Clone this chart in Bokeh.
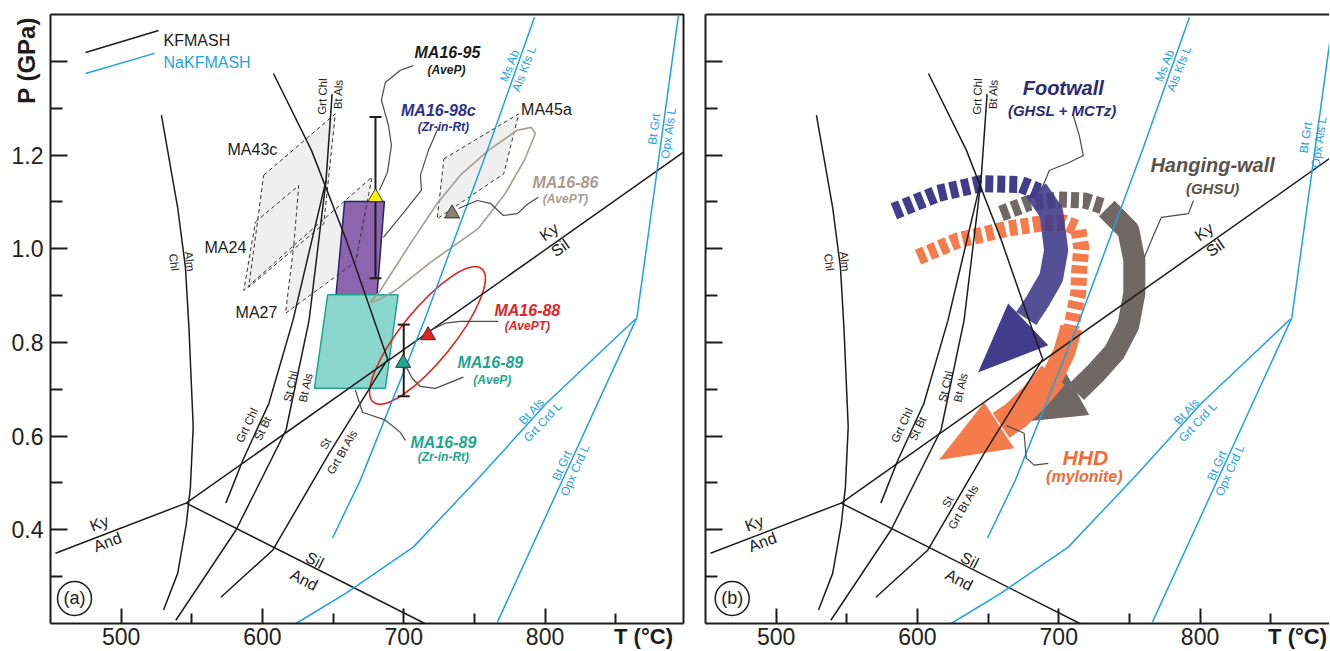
import math
from bokeh.plotting import figure
from bokeh.layouts import row
from bokeh.models import FixedTicker, ColumnDataSource
from bokeh.core.properties import value
from bokeh.embed import file_html
from bokeh.resources import INLINE

# ------------------------------------------------------------------ data
x_major = [500, 600, 700, 800]
x_minor = [550, 650, 750, 850]
y_major = [0.4, 0.6, 0.8, 1.0, 1.2, 1.4]
y_minor = [0.3, 0.5, 0.7, 0.9, 1.1, 1.3]
y_tick_text = {0.4: "0.4", 0.6: "0.6", 0.8: "0.8", 1.0: "1.0", 1.2: "1.2", 1.4: ""}
T_LO, T_HI, P_LO, P_HI = 450.0, 898.0, 0.2, 1.5

# KFMASH reactions (black)
alm_chl_T = [528.5, 540, 545.5, 548, 551, 549, 546, 540, 530]
alm_chl_P = [1.285, 1.088, 0.96, 0.83, 0.62, 0.49, 0.41, 0.307, 0.229]
ky_and_T = [453.5, 546]
ky_and_P = [0.35, 0.457]
sil_and_T = [546, 715]
sil_and_P = [0.457, 0.2]
ky_sil_T = [546, 898]
ky_sil_P = [0.457, 1.206]
grtchl_stbt_T = [574.1, 586.2, 604.6, 621.6, 645.0]
grtchl_stbt_P = [0.457, 0.549, 0.670, 0.847, 1.146]
stchl_btals_T = [538.7, 581.2, 616.7, 633.0, 645.0]
stchl_btals_P = [0.207, 0.399, 0.613, 0.847, 1.146]
grtchl_btals_T = [645.0, 649.3]
grtchl_btals_P = [1.146, 1.33]
st_grtbtals_T = [570.6, 607.4, 647.2, 689.0]
st_grtbtals_P = [0.256, 0.357, 0.563, 0.766]
st_grtbtky_T = [607.8, 634.7, 659.4, 688.4]
st_grtbtky_P = [1.374, 1.210, 1.018, 0.766]

# NaKFMASH reactions (blue)
msab_T = [792.5, 759.2, 714.6, 669.3, 649.5]
msab_P = [1.494, 1.210, 0.847, 0.506, 0.382]
btgrt_opxals_T = [894.4, 865.0]
btgrt_opxals_P = [1.498, 0.853]
btgrt_opxcrd_T = [865.0, 766.3]
btgrt_opxcrd_P = [0.853, 0.203]
btals_grtcrd_T = [864, 801, 753.5, 706.7, 659.2, 623.8]
btals_grtcrd_P = [0.85, 0.67, 0.512, 0.363, 0.265, 0.2]

# reaction labels
blk_lbl = ["Alm", "Chl", "Grt Chl", "Bt Als", "Grt Chl", "St Bt", "St Chl", "Bt Als"]
blk_lbl_T = [548.5, 537.5, 642.5, 653.6, 589.0, 600.2, 620.0, 630.6]
blk_lbl_P = [0.973, 0.971, 1.325, 1.330, 0.623, 0.616, 0.706, 0.704]
blk_lbl_ang = [-83, -83, 88, 88, 65, 65, 77, 77]
big_lbl = ["Ky", "And", "Sil", "And", "Ky", "Sil"]
big_lbl_T = [484.5, 490.3, 637.0, 629.5, 802.8, 810.7]
big_lbl_P = [0.414, 0.374, 0.335, 0.293, 1.036, 1.002]
big_lbl_ang = [21, 21, -27, -27, 35, 35]
st_lbl = ["St", "Grt Bt Als"]
st_lbl_T_a = [644.6, 656.4]
st_lbl_P_a = [0.584, 0.566]
st_lbl_T_b = [621.4, 632.5]
st_lbl_P_b = [0.460, 0.449]
blu_lbl = ["Ms Ab", "Als Kfs L", "Bt Grt", "Opx Als L", "Bt Als", "Grt Crd L", "Bt Grt", "Opx Crd L"]
blu_lbl_T_a = [775.0, 785.2, 877.2, 887.3, 790.6, 798.4, 811.9, 821.2]
blu_lbl_P_a = [1.391, 1.384, 1.255, 1.247, 0.653, 0.630, 0.537, 0.527]
blu_lbl_T_b = [775.0, 785.2, 874.8, 884.2, 790.6, 798.4, 811.9, 821.2]
blu_lbl_P_b = [1.391, 1.384, 1.237, 1.228, 0.653, 0.630, 0.537, 0.527]
blu_lbl_ang = [69, 69, 82, 82, 47, 47, 66, 66]

# thermobarometry boxes (panel a)
ma43c_T = [600.9, 651.6, 643.4, 590.3]
ma43c_P = [1.157, 1.288, 1.053, 0.918]
ma24_T = [595.0, 625.7, 622.2, 586.8]
ma24_P = [1.057, 1.135, 1.007, 0.911]
ma27_T = [622.2, 677.6, 665.9, 616.3]
ma27_P = [1.007, 1.153, 0.972, 0.862]
ma45a_T = [728.4, 781.4, 770.8, 723.7]
ma45a_P = [1.192, 1.288, 1.160, 1.064]
zr98c_T = [658.2, 686.3, 681.1, 652.1]
zr98c_P = [1.101, 1.101, 0.902, 0.902]
zr89_T = [646.2, 696.0, 687.0, 636.8]
zr89_P = [0.902, 0.902, 0.702, 0.702]
ma1686_T = [676.4, 683.5, 704.7, 723.8, 740.1, 759.9, 780.4, 790.3, 793.2, 785.4, 771.9, 752.8, 718.9, 694.1, 681.4]
ma1686_P = [0.886, 0.911, 1.011, 1.097, 1.157, 1.210, 1.253, 1.259, 1.246, 1.189, 1.118, 1.043, 0.971, 0.911, 0.890]
ma1688_T = [716.8]
ma1688_P = [0.815]

# point estimates
pt_T = [680.0, 734.2, 717.2, 699.6]
pt_P = [1.110, 1.075, 0.815, 0.756]
pt_col = ["#fff200", "#8c8073", "#e3231f", "#1fa68c"]
err_T = [680.0, 700.0]
err_lo = [0.937, 0.685]
err_hi = [1.281, 0.838]

# P-T paths (panel b)
navy_dash_T = [583.3, 614.5, 645.0, 673.4, 686.0]
navy_dash_P = [1.080, 1.118, 1.139, 1.137, 1.122]
navy_body_T = [684.0, 694.7, 698.2, 694.7, 685.5, 677.0]
navy_body_P = [1.125, 1.078, 0.997, 0.939, 0.890, 0.851]
navy_head_T = [664.2, 642.9, 692.6]
navy_head_P = [0.883, 0.736, 0.794]
gray_dash_T = [659.2, 678.4, 699.6, 718.1, 732.0]
gray_dash_P = [1.075, 1.097, 1.105, 1.103, 1.090]
gray_body_T = [734.0, 749.3, 753.5, 753.5, 749.3, 739.4, 726.6, 712.4]
gray_body_P = [1.086, 1.039, 0.975, 0.905, 0.837, 0.779, 0.736, 0.694]
gray_head_T = [705.3, 673.4, 721.6]
gray_head_P = [0.734, 0.630, 0.645]
orange_dash_T = [600.4, 628.7, 664.2, 687.6, 703.9, 713.8, 716.0, 714.5, 713.8, 711.0, 708.9]
orange_dash_P = [0.982, 1.018, 1.043, 1.054, 1.056, 1.043, 1.001, 0.954, 0.905, 0.864, 0.832]
orange_body_T = [708.9, 703.9, 696.1, 684.0, 669.9, 659.2]
orange_body_P = [0.832, 0.779, 0.730, 0.687, 0.645, 0.623]
orange_head_T = [647.2, 615.2, 668.4]
orange_head_P = [0.672, 0.549, 0.574]

# ------------------------------------------------------------------ style
FONT = "Liberation Sans"
INK = "#1c1c1c"
BLUE = "#1fa2e1"
RED = "#e3231f"
TEAL = "#1fa68c"
NAVY = "#2e2f8c"
BROWN = "#a79c8f"
LEAD = "#4a4a4a"
A_NAVY = "#433c8b"
A_GRAY = "#6f6864"
A_ORANGE = "#f47b4b"

SX = 633.0 / 448.0          # px per degC
SY = 609.0 / 1.3            # px per GPa
FIG_H = 650
TOP_PX = 14
BOT_PX = FIG_H - 623


def txt(p, T, P, texts, color, size, style="normal", angle=None, align="center", baseline="middle"):
    n = len(T)
    src = ColumnDataSource(dict(x=list(T), y=list(P), t=list(texts),
                                a=list(angle) if angle is not None else [0] * n))
    p.text(x="x", y="y", text="t", angle="a", angle_units="deg", source=src,
           text_color=color, text_font=value(FONT), text_font_size=value(size),
           text_font_style=style, text_align=align, text_baseline=baseline)


def make_fig(left_px, box_w, right_px, ylabels):
    t_hi = T_LO + box_w / SX
    xr = (T_LO - left_px / SX, t_hi + right_px / SX)
    yr = (P_LO - BOT_PX / SY, P_HI + TOP_PX / SY)
    p = figure(width=left_px + box_w + right_px, height=FIG_H, x_range=xr, y_range=yr,
               output_backend="svg", toolbar_location=None, min_border=0)
    p.grid.visible = False
    p.outline_line_color = None
    p.background_fill_color = "white"
    p.border_fill_color = "white"
    p.xaxis.fixed_location = P_LO
    p.yaxis.fixed_location = T_LO
    p.xaxis.bounds = (T_LO, t_hi)
    p.yaxis.bounds = (P_LO, P_HI)
    p.xaxis.ticker = FixedTicker(ticks=x_major, minor_ticks=x_minor)
    p.yaxis.ticker = FixedTicker(ticks=y_major, minor_ticks=y_minor)
    for ax, mj, mn in ((p.xaxis, 15, 10), (p.yaxis, 17, 12)):
        ax.major_tick_in = mj
        ax.major_tick_out = 0
        ax.minor_tick_in = mn
        ax.minor_tick_out = 0
        ax.major_tick_line_width = 2
        ax.minor_tick_line_width = 2
        ax.major_tick_line_color = INK
        ax.minor_tick_line_color = INK
        ax.axis_line_width = 2
        ax.axis_line_color = INK
        ax.major_label_text_font = FONT
        ax.major_label_text_font_size = "23px"
        ax.major_label_text_color = "#222"
    p.xaxis.major_label_standoff = 4
    if ylabels:
        p.yaxis.major_label_overrides = y_tick_text
        p.yaxis.major_label_standoff = 7
    else:
        p.yaxis.major_label_overrides = {v: "" for v in y_major}
    return p, t_hi


def draw_phase(p, st_T, st_P, bl_T, bl_P):
    for T, P in ((alm_chl_T, alm_chl_P), (ky_and_T, ky_and_P), (sil_and_T, sil_and_P),
                 (ky_sil_T, ky_sil_P), (grtchl_stbt_T, grtchl_stbt_P),
                 (stchl_btals_T, stchl_btals_P), (grtchl_btals_T, grtchl_btals_P),
                 (st_grtbtals_T, st_grtbtals_P), (st_grtbtky_T, st_grtbtky_P)):
        p.line(T, P, line_color=INK, line_width=1.5, line_join="round")
    for T, P in ((msab_T, msab_P), (btgrt_opxals_T, btgrt_opxals_P),
                 (btgrt_opxcrd_T, btgrt_opxcrd_P), (btals_grtcrd_T, btals_grtcrd_P)):
        p.line(T, P, line_color=BLUE, line_width=1.5, line_join="round")
    txt(p, blk_lbl_T, blk_lbl_P, blk_lbl, INK, "11.5px", angle=blk_lbl_ang)
    txt(p, big_lbl_T, big_lbl_P, big_lbl, INK, "16px", angle=big_lbl_ang)
    txt(p, st_T, st_P, st_lbl, INK, "11.5px", angle=[60, 60])
    txt(p, bl_T, bl_P, blu_lbl, BLUE, "12px", angle=blu_lbl_ang)


# ------------------------------------------------------------------ panel a
pa, ta_hi = make_fig(50, 633, 11, True)
pa.line([T_LO, ta_hi, ta_hi], [P_HI, P_HI, P_LO], line_color=INK, line_width=2)

pa.patches([ma43c_T, ma24_T, ma27_T, ma45a_T], [ma43c_P, ma24_P, ma27_P, ma45a_P],
           fill_color="#efefef", line_color=None)
pa.patch(zr98c_T, zr98c_P, fill_color="#8e64af", line_color="#27246c", line_width=1.5)
pa.patch(zr89_T, zr89_P, fill_color="#8cd7cd", line_color=TEAL, line_width=1.5)
pa.patches([ma43c_T, ma24_T, ma27_T, ma45a_T], [ma43c_P, ma24_P, ma27_P, ma45a_P],
           fill_color=None, line_color="#333", line_width=1, line_dash="4 3")
pa.patch(ma1686_T, ma1686_P, fill_color=None, line_color=BROWN, line_width=1.6)
pa.ellipse(x=ma1688_T, y=ma1688_P, width=172, height=52, angle=51,
           angle_units="deg", width_units="screen", height_units="screen",
           fill_color=None, line_color=RED, line_width=1.6)

draw_phase(pa, st_lbl_T_a, st_lbl_P_a, blu_lbl_T_a, blu_lbl_P_a)

# legend
pa.line([474.8, 526.5], [1.419, 1.466], line_color=INK, line_width=1.5)
pa.line([474.8, 523.6], [1.374, 1.417], line_color=BLUE, line_width=1.5)
txt(pa, [530], [1.445], ["KFMASH"], INK, "16px", align="left")
txt(pa, [530], [1.398], ["NaKFMASH"], BLUE, "16px", align="left")

# leader lines
leaders_a = [
    ([706.8, 697.6, 687.0, 684.2, 689.2, 691.3, 688.5, 682.8],
     [1.391, 1.381, 1.355, 1.317, 1.263, 1.221, 1.163, 1.125]),
    ([724.5, 717.5, 711.8, 712.5, 701.2, 685.6], [1.259, 1.210, 1.157, 1.125, 1.082, 1.024]),
    ([738.7, 752.1, 761.3, 770.5, 780.4, 787.5, 795.3], [1.086, 1.103, 1.097, 1.071, 1.075, 1.095, 1.110]),
    ([718.9, 729.5, 740.1, 767.0], [0.826, 0.841, 0.845, 0.845]),
    ([701.2, 706.1, 711.8, 722.4, 742.2], [0.751, 0.723, 0.706, 0.702, 0.726]),
    ([665.8, 670.8, 687.0, 697.6, 701.2], [0.698, 0.651, 0.634, 0.608, 0.591]),
]
for T, P in leaders_a:
    pa.line(T, P, line_color=LEAD, line_width=1.2, line_join="round")

# error bars and points
pa.segment(x0=err_T, y0=err_lo, x1=err_T, y1=err_hi, line_color=INK, line_width=2)
pa.scatter(err_T + err_T, err_lo + err_hi, marker="dash", size=12, line_color=INK, line_width=2)
pa.scatter(pt_T, pt_P, marker="triangle", size=15, fill_color=pt_col, line_color="#333", line_width=1)

# sample labels
txt(pa, [592.9, 573.8, 595.8, 801.0], [1.212, 1.003, 0.864, 1.297], ["MA43c", "MA24", "MA27", "MA45a"],
    INK, "16px")
txt(pa, [730.9], [1.419], ["MA16-95"], INK, "16px", "bold italic")
txt(pa, [730.2], [1.381], ["(AveP)"], INK, "12px", "bold italic")
txt(pa, [724.5], [1.295], ["MA16-98c"], NAVY, "16px", "bold italic")
txt(pa, [728.1], [1.259], ["(Zr-in-Rt)"], NAVY, "12px", "bold italic")
txt(pa, [814.4], [1.142], ["MA16-86"], BROWN, "16px", "bold italic")
txt(pa, [814.4], [1.107], ["(AvePT)"], BROWN, "12px", "bold italic")
txt(pa, [787.5], [0.869], ["MA16-88"], RED, "16px", "bold italic")
txt(pa, [787.5], [0.834], ["(AvePT)"], RED, "12px", "bold italic")
txt(pa, [761.3], [0.758], ["MA16-89"], TEAL, "16px", "bold italic")
txt(pa, [762.7], [0.719], ["(AveP)"], TEAL, "12px", "bold italic")
txt(pa, [728.1], [0.587], ["MA16-89"], TEAL, "16px", "bold italic")
txt(pa, [728.1], [0.555], ["(Zr-in-Rt)"], TEAL, "12px", "bold italic")

pa.scatter([467.0], [0.2535], marker="circle", size=34, fill_color=None, line_color=INK, line_width=1.5)
txt(pa, [467.0], [0.2535], ["(a)"], INK, "18px")
txt(pa, [869.7], [P_LO - 13 / SY], ["T (°C)"], INK, "22px", "bold")
txt(pa, [T_LO - 24 / SX], [P_HI - 46 / SY], ["P (GPa)"], INK, "24px", "bold", angle=[90])

# ------------------------------------------------------------------ panel b
pb, tb_hi = make_fig(11, 624, 0, False)
pb.line([T_LO, tb_hi], [P_HI, P_HI], line_color=INK, line_width=2)

pb.line(gray_dash_T, gray_dash_P, line_color=A_GRAY, line_width=16, line_dash="8 4")
pb.line(gray_body_T, gray_body_P, line_color=A_GRAY, line_width=22, line_join="round")
pb.patch(gray_head_T, gray_head_P, fill_color=A_GRAY, line_color=None)
pb.line(orange_dash_T, orange_dash_P, line_color=A_ORANGE, line_width=16, line_dash="8 4")
pb.line(orange_body_T, orange_body_P, line_color=A_ORANGE, line_width=22, line_join="round")
pb.line(orange_body_T[2:], orange_body_P[2:], line_color=A_ORANGE, line_width=30, line_join="round")
pb.patch(orange_head_T, orange_head_P, fill_color=A_ORANGE, line_color=None)
pb.line(navy_dash_T, navy_dash_P, line_color=A_NAVY, line_width=17, line_dash="8 4")
pb.line(navy_body_T, navy_body_P, line_color=A_NAVY, line_width=24, line_join="round", line_alpha=0.9)
pb.patch(navy_head_T, navy_head_P, fill_color=A_NAVY, line_color=None)

draw_phase(pb, st_lbl_T_b, st_lbl_P_b, blu_lbl_T_b, blu_lbl_P_b)

leaders_b = [
    ([710.3, 714.5, 717.4, 707.4, 693.3, 687.6], [1.285, 1.242, 1.199, 1.184, 1.167, 1.125]),
    ([795.4, 791.8, 772.7, 767.7, 760.6], [1.103, 1.075, 1.067, 1.033, 0.982]),
    ([662.8, 675.5, 677.0, 682.6, 692.6], [0.623, 0.606, 0.553, 0.538, 0.542]),
]
for T, P in leaders_b:
    pb.line(T, P, line_color=LEAD, line_width=1.2, line_join="round")

txt(pb, [703.2], [1.344], ["Footwall"], "#2b2a72", "20px", "bold italic")
txt(pb, [702.5], [1.295], ["(GHSL + MCTz)"], "#2b2a72", "15px", "bold italic")
txt(pb, [808.9], [1.178], ["Hanging-wall"], "#57514c", "20px", "bold italic")
txt(pb, [808.9], [1.129], ["(GHSU)"], "#57514c", "15px", "bold italic")
txt(pb, [718.8], [0.555], ["HHD"], "#f26a35", "21px", "bold italic")
txt(pb, [718.1], [0.514], ["(mylonite)"], "#f26a35", "16px", "bold italic")

pb.scatter([468.9], [0.2535], marker="circle", size=34, fill_color=None, line_color=INK, line_width=1.5)
txt(pb, [468.9], [0.2535], ["(b)"], INK, "18px")
txt(pb, [869.0], [P_LO - 13 / SY], ["T (°C)"], INK, "22px", "bold")

layout = row(pa, pb)
open("out.html", "w").write(file_html(layout, INLINE))
